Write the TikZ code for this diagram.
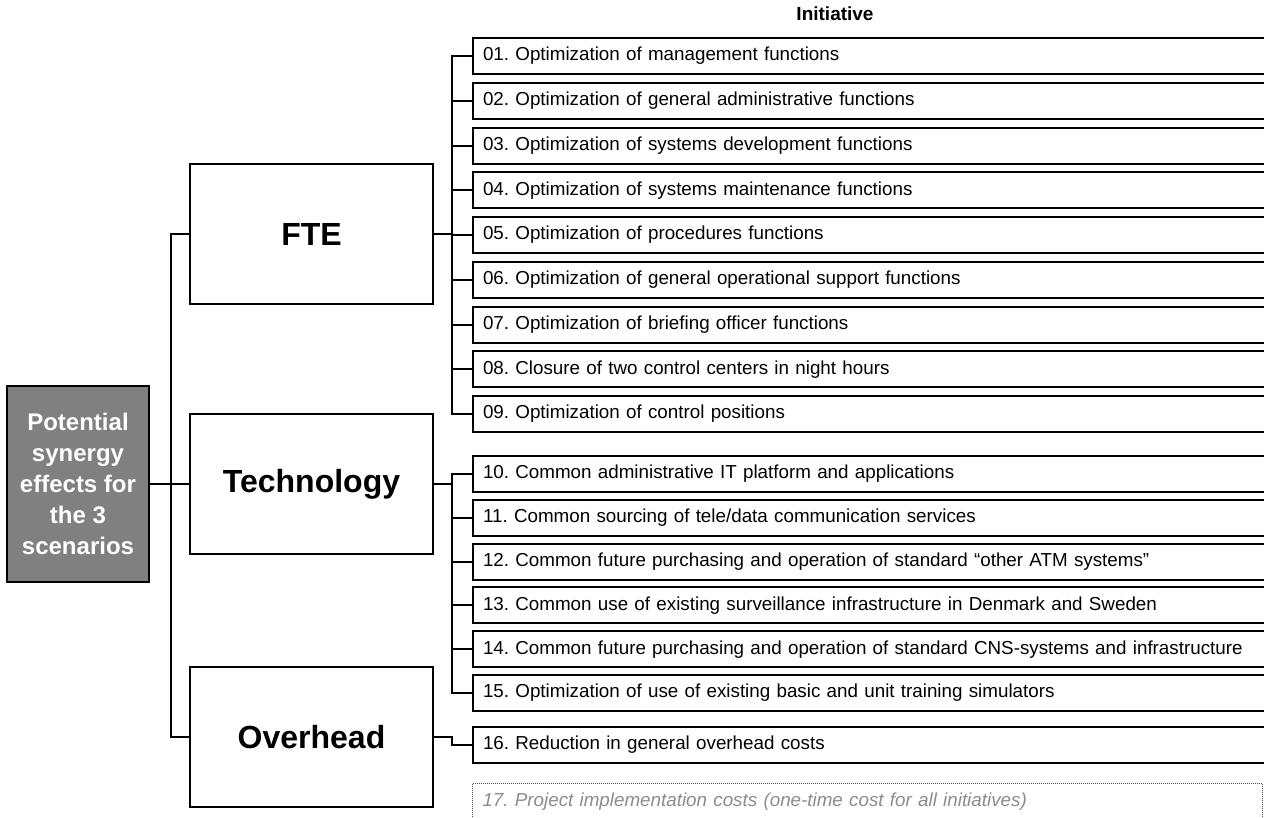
\documentclass[tikz,border=0pt]{standalone}
\usepackage{fontspec}
\setmainfont{Liberation Sans}
\frenchspacing
\begin{document}
\begin{tikzpicture}[x=1pt,y=-1pt,
  line width=2pt,
  rootbox/.style={draw, fill=black!50, text=white, align=center, minimum width=142pt, minimum height=196pt, inner sep=0pt, font=\fontsize{24}{31}\selectfont\bfseries},
  catbox/.style={draw, fill=white, minimum width=243pt, minimum height=140pt, inner sep=0pt, font=\fontsize{32}{34}\selectfont\bfseries},
  item/.style={draw, anchor=west, minimum height=36pt, text width=780pt, inner xsep=10pt, inner ysep=0pt, align=left, font=\fontsize{18.8}{20}\selectfont},
  lastitem/.style={draw=black!70, densely dotted, line width=1pt, anchor=north west, text width=770pt, inner xsep=10pt, inner ysep=9pt, align=left, text=black!45, font=\fontsize{18.8}{20}\selectfont\itshape},
  conn/.style={draw, line width=2pt}
]
\useasboundingbox (0,0) rectangle (1264,817);
\clip (0,0) rectangle (1264,817);

\node[font=\fontsize{19}{19}\selectfont\bfseries] (hdr) at (835,14) {Initiative};

\node[rootbox] (root) at (78,484) {Potential\\synergy\\effects for\\the 3\\scenarios};

\node[catbox] (fte)  at (311.5,234) {FTE};
\node[catbox] (tech) at (311.5,484) {Technology};
\node[catbox] (ovh)  at (311.5,737) {Overhead};

\node[item] (i1) at (472,56.00) {01. Optimization of management functions};
\node[item] (i2) at (472,100.75) {02. Optimization of general administrative functions};
\node[item] (i3) at (472,145.50) {03. Optimization of systems development functions};
\node[item] (i4) at (472,190.25) {04. Optimization of systems maintenance functions};
\node[item] (i5) at (472,235.00) {05. Optimization of procedures functions};
\node[item] (i6) at (472,279.75) {06. Optimization of general operational support functions};
\node[item] (i7) at (472,324.50) {07. Optimization of briefing officer functions};
\node[item] (i8) at (472,369.25) {08. Closure of two control centers in night hours};
\node[item] (i9) at (472,414.00) {09. Optimization of control positions};

\node[item] (i10) at (472,474.0) {10. Common administrative IT platform and applications};
\node[item] (i11) at (472,517.8) {11. Common sourcing of tele/data communication services};
\node[item] (i12) at (472,561.6) {12. Common future purchasing and operation of standard “other ATM systems”};
\node[item] (i13) at (472,605.4) {13. Common use of existing surveillance infrastructure in Denmark and Sweden};
\node[item] (i14) at (472,649.2) {14. Common future purchasing and operation of standard CNS-systems and infrastructure};
\node[item] (i15) at (472,693.0) {15. Optimization of use of existing basic and unit training simulators};

\node[item] (i16) at (472,745) {16. Reduction in general overhead costs};

\node[lastitem] (i17) at (472,783) {17. Project implementation costs (one-time cost for all initiatives)};

% trunk
\coordinate (tr) at (171,0);
\draw[conn] (root.east) -- (tech.west);
\draw[conn] (fte.west) -- (fte.west -| tr) -- (ovh.west -| tr) -- (ovh.west);

% FTE bracket
\coordinate (fb) at (452,0);
\draw[conn] (fte.east) -- (fte.east -| fb);
\draw[conn] (i1.west) -- (i1.west -| fb) -- (i9.west -| fb) -- (i9.west);
\foreach \k in {2,...,8} \draw[conn] (i\k.west) -- (i\k.west -| fb);

% Technology bracket
\draw[conn] (tech.east) -- (tech.east -| fb);
\draw[conn] (i10.west) -- (i10.west -| fb) -- (i15.west -| fb) -- (i15.west);
\foreach \k in {11,...,14} \draw[conn] (i\k.west) -- (i\k.west -| fb);

% Overhead
\draw[conn] (ovh.east) -- (ovh.east -| fb) |- (i16.west);
\end{tikzpicture}
\end{document}
